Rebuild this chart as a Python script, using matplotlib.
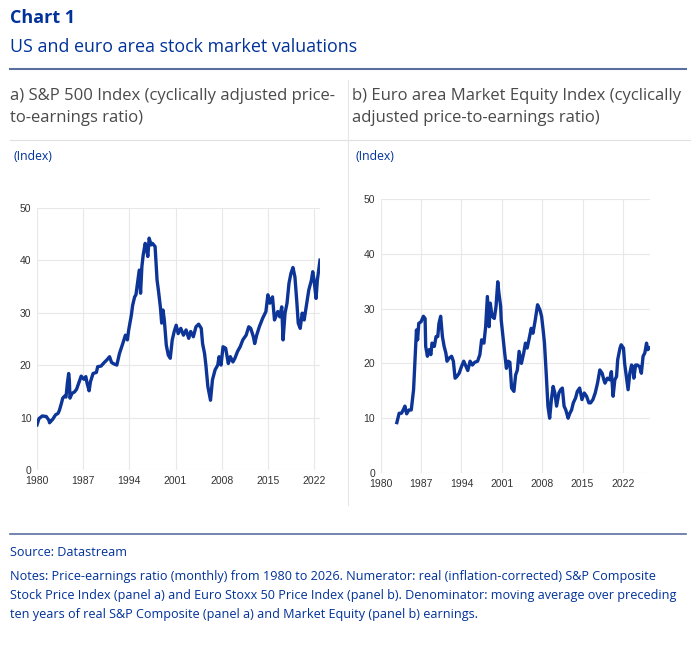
import matplotlib
matplotlib.use("Agg")
import matplotlib.pyplot as plt
from matplotlib.lines import Line2D

# ---------------- data ----------------
us_years = [1980.0, 1980.3, 1980.8, 1981.4, 1981.8, 1981.9, 1982.4, 1982.8, 1983.2, 1983.4,
            1983.7, 1983.9, 1984.2, 1984.4, 1984.6, 1984.8, 1984.9, 1985.0, 1985.3, 1985.7,
            1986.0, 1986.5, 1986.7, 1987.1, 1987.4, 1987.6, 1987.9, 1988.1, 1988.5, 1989.0,
            1989.2, 1989.7, 1990.2, 1990.6, 1991.0, 1991.3, 1991.7, 1992.1, 1992.5, 1993.0,
            1993.4, 1993.7, 1993.9, 1994.3, 1994.5, 1994.8, 1995.0, 1995.3, 1995.5, 1995.7,
            1995.9, 1996.1, 1996.4, 1996.6, 1996.8, 1997.0, 1997.3, 1997.5, 1997.9, 1998.2,
            1998.4, 1998.7, 1998.9, 1999.1, 1999.3, 1999.6, 1999.9, 2000.2, 2000.5, 2000.8,
            2001.1, 2001.4, 2001.8, 2002.2, 2002.6, 2003.0, 2003.3, 2003.7, 2004.1, 2004.5,
            2004.9, 2005.1, 2005.4, 2005.6, 2005.9, 2006.1, 2006.3, 2006.6, 2007.0, 2007.4,
            2007.6, 2007.9, 2008.2, 2008.6, 2009.0, 2009.3, 2009.7, 2010.0, 2010.4, 2010.8,
            2011.2, 2011.7, 2012.1, 2012.4, 2012.8, 2013.0, 2013.3, 2013.7, 2014.2, 2014.7,
            2015.0, 2015.3, 2015.7, 2016.0, 2016.5, 2016.8, 2017.1, 2017.3, 2017.6, 2017.9,
            2018.2, 2018.5, 2018.8, 2019.1, 2019.4, 2019.6, 2019.9, 2020.2, 2020.5, 2020.8,
            2021.2, 2021.6, 2021.8, 2022.0, 2022.3, 2022.5, 2022.9]
us_cape = [8.6, 9.8, 10.3, 10.2, 9.5, 9.0, 9.7, 10.5, 10.8, 11.4,
           12.7, 13.7, 14.1, 13.9, 16.5, 18.4, 17.2, 13.7, 14.6, 14.9,
           15.4, 17.2, 17.9, 17.3, 17.8, 16.5, 15.1, 16.8, 18.4, 18.6,
           19.7, 19.8, 20.5, 21.0, 21.6, 20.5, 20.2, 20.0, 22.2, 24.1,
           25.7, 24.8, 26.7, 29.5, 31.4, 33.0, 33.4, 36.2, 38.1, 33.7,
           38.8, 41.0, 43.2, 42.2, 40.7, 44.2, 42.9, 43.2, 42.6, 36.2,
           34.3, 31.1, 28.0, 30.5, 28.6, 23.8, 21.9, 21.3, 24.8, 26.4,
           27.6, 26.0, 27.0, 25.7, 26.7, 25.1, 26.4, 25.4, 27.3, 27.8,
           27.0, 24.1, 22.2, 20.0, 15.9, 14.6, 13.3, 17.2, 19.1, 20.0,
           21.6, 20.0, 23.5, 23.2, 20.3, 21.6, 20.6, 21.3, 22.6, 23.5,
           24.8, 25.7, 27.3, 27.0, 25.4, 24.1, 25.7, 27.3, 28.9, 30.2,
           33.4, 31.8, 33.0, 28.6, 30.2, 29.2, 31.1, 24.8, 29.9, 31.8,
           35.6, 37.5, 38.6, 36.8, 31.8, 28.0, 27.0, 29.9, 28.6, 31.1,
           34.3, 36.2, 37.8, 36.2, 32.7, 36.2, 40.0]

ea_years = [1982.8, 1983.2, 1983.6, 1983.9, 1984.2, 1984.5, 1984.9, 1985.3, 1985.7, 1985.9,
            1986.2, 1986.4, 1986.6, 1987.0, 1987.4, 1987.7, 1987.8, 1988.1, 1988.4, 1988.7,
            1988.9, 1989.3, 1989.6, 1989.9, 1990.1, 1990.4, 1990.7, 1991.0, 1991.3, 1991.5,
            1991.9, 1992.3, 1992.6, 1992.9, 1993.2, 1993.6, 1994.0, 1994.4, 1994.8, 1995.1,
            1995.5, 1995.9, 1996.3, 1996.8, 1997.2, 1997.5, 1997.9, 1998.2, 1998.5, 1998.8,
            1999.0, 1999.3, 1999.7, 2000.0, 2000.3, 2000.5, 2000.8, 2000.9, 2001.2, 2001.5,
            2001.8, 2002.1, 2002.4, 2002.7, 2003.1, 2003.4, 2003.7, 2004.0, 2004.4, 2004.8,
            2005.1, 2005.4, 2005.7, 2006.1, 2006.4, 2006.8, 2007.2, 2007.6, 2007.9, 2008.2,
            2008.4, 2008.7, 2009.0, 2009.3, 2009.6, 2009.9, 2010.2, 2010.5, 2010.9, 2011.2,
            2011.5, 2011.8, 2012.1, 2012.5, 2012.8, 2013.1, 2013.4, 2013.8, 2014.1, 2014.5,
            2014.9, 2015.3, 2015.7, 2016.1, 2016.4, 2016.8, 2017.2, 2017.6, 2018.0, 2018.4,
            2018.7, 2018.9, 2019.3, 2019.7, 2020.0, 2020.3, 2020.6, 2020.9, 2021.1, 2021.5,
            2021.7, 2022.1, 2022.3, 2022.6, 2022.9, 2023.2, 2023.5, 2023.7, 2023.9, 2024.2,
            2024.5, 2024.9, 2025.2, 2025.5, 2025.8, 2026.1, 2026.3, 2026.6]
ea_cape = [9.2, 10.9, 10.9, 11.5, 12.2, 10.8, 11.5, 11.5, 15.2, 19.4,
           26.1, 24.3, 27.3, 27.6, 28.6, 28.2, 23.1, 21.3, 22.5, 21.6,
           23.7, 23.1, 24.9, 24.9, 27.3, 28.6, 24.9, 23.1, 21.9, 20.4,
           21.0, 21.3, 20.4, 17.3, 17.6, 18.2, 19.4, 20.4, 19.4, 18.7,
           20.4, 19.7, 20.2, 20.4, 21.6, 24.3, 23.7, 26.7, 32.2, 26.7,
           31.0, 28.6, 28.2, 30.4, 34.9, 32.8, 30.4, 27.9, 24.9, 21.9,
           19.1, 20.4, 20.2, 15.5, 14.9, 17.9, 18.8, 22.2, 20.0, 21.9,
           23.7, 22.8, 24.3, 26.4, 25.5, 27.9, 30.7, 29.8, 28.6, 25.8,
           23.7, 18.2, 12.2, 10.0, 13.4, 15.8, 14.6, 12.2, 14.6, 15.2,
           15.5, 12.2, 11.5, 10.0, 10.9, 11.5, 12.8, 13.7, 14.9, 15.5,
           13.4, 14.6, 14.0, 12.8, 12.8, 13.4, 14.6, 16.4, 18.8, 18.2,
           17.0, 16.4, 17.3, 17.0, 18.5, 14.0, 17.0, 17.6, 20.7, 22.8,
           23.4, 22.8, 20.0, 17.6, 15.2, 18.2, 19.7, 19.4, 17.3, 19.7,
           19.7, 19.4, 18.2, 21.3, 21.9, 23.7, 22.5, 22.8]

x_ticks = [1980, 1987, 1994, 2001, 2008, 2015, 2022]
y_ticks = [0, 10, 20, 30, 40, 50]

title = "Chart 1"
subtitle = "US and euro area stock market valuations"
panel_a_title = "a) S&P 500 Index (cyclically adjusted price-\nto-earnings ratio)"
panel_b_title = "b) Euro area Market Equity Index (cyclically\nadjusted price-to-earnings ratio)"
unit_label = "(Index)"
source_text = "Source: Datastream"
notes_text = ("Notes: Price-earnings ratio (monthly) from 1980 to 2026. Numerator: real (inflation-corrected) S&P Composite\n"
              "Stock Price Index (panel a) and Euro Stoxx 50 Price Index (panel b). Denominator: moving average over preceding\n"
              "ten years of real S&P Composite (panel a) and Market Equity (panel b) earnings.")

# ---------------- style ----------------
W, H = 697, 645
BLUE = "#003299"
LINE_BLUE = "#0d3597"
GRAY_TXT = "#4a4a4a"
GRID = "#e8e8e8"
FONT = "Open Sans"

fig = plt.figure(figsize=(W / 100, H / 100), dpi=100)
fig.patch.set_facecolor("white")

def fx(px):
    return px / W

def fy(py):
    return 1 - py / H

fig.text(fx(10), fy(18), title, fontsize=13, fontweight="bold", color=BLUE,
         family=FONT, va="center", ha="left")
fig.text(fx(10), fy(47), subtitle, fontsize=12.9, color=BLUE, family=FONT,
         va="center", ha="left")
fig.add_artist(Line2D([fx(10), fx(686)], [fy(69), fy(69)], color="#5a6f9e", lw=1.5))

fig.text(fx(10), fy(107), panel_a_title, fontsize=12, color=GRAY_TXT, family=FONT,
         va="center", ha="left", linespacing=1.42)
fig.text(fx(352), fy(107), panel_b_title, fontsize=12, color=GRAY_TXT, family=FONT,
         va="center", ha="left", linespacing=1.42)
fig.add_artist(Line2D([fx(10), fx(690)], [fy(140), fy(140)], color="#e0e0e0", lw=0.8))
fig.add_artist(Line2D([fx(348), fx(348)], [fy(80), fy(505)], color="#e6e6e6", lw=0.8))

fig.text(fx(13), fy(157), unit_label, fontsize=8.8, color=BLUE, family=FONT,
         va="center", ha="left")
fig.text(fx(356), fy(157), unit_label, fontsize=8.8, color=BLUE, family=FONT,
         va="center", ha="left")

fig.add_artist(Line2D([fx(10), fx(686)], [fy(534), fy(534)], color="#5a6f9e", lw=1.2))
fig.text(fx(10), fy(553), source_text, fontsize=9.1, color=BLUE, family=FONT,
         va="center", ha="left")
fig.text(fx(10), fy(595.5), notes_text, fontsize=9.1, color=BLUE, family=FONT,
         va="center", ha="left", linespacing=1.62)

def style_axes(ax, xlim):
    ax.set_xlim(*xlim)
    ax.set_ylim(0, 50)
    ax.set_xticks(x_ticks)
    ax.set_yticks(y_ticks)
    ax.set_xticklabels([str(t) for t in x_ticks])
    ax.grid(True, color=GRID, lw=0.8)
    ax.set_axisbelow(True)
    for s in ax.spines.values():
        s.set_visible(False)
    ax.tick_params(length=0, labelsize=7.5, labelcolor="#333333", pad=4)
    for lab in ax.get_xticklabels() + ax.get_yticklabels():
        lab.set_family("Liberation Sans")

ax_a = fig.add_axes([fx(37), fy(470), fx(320 - 37), (470 - 207.7) / H])
ax_a.plot(us_years, us_cape, color=LINE_BLUE, lw=2.4, solid_joinstyle="round")
style_axes(ax_a, (1980, 2022.9))

ax_b = fig.add_axes([fx(380.7), fy(473), fx(650 - 380.7), (473 - 199) / H])
ax_b.plot(ea_years, ea_cape, color=LINE_BLUE, lw=2.4, solid_joinstyle="round")
style_axes(ax_b, (1980, 2026.7))

fig.savefig("out.png", dpi=100, facecolor="white")
